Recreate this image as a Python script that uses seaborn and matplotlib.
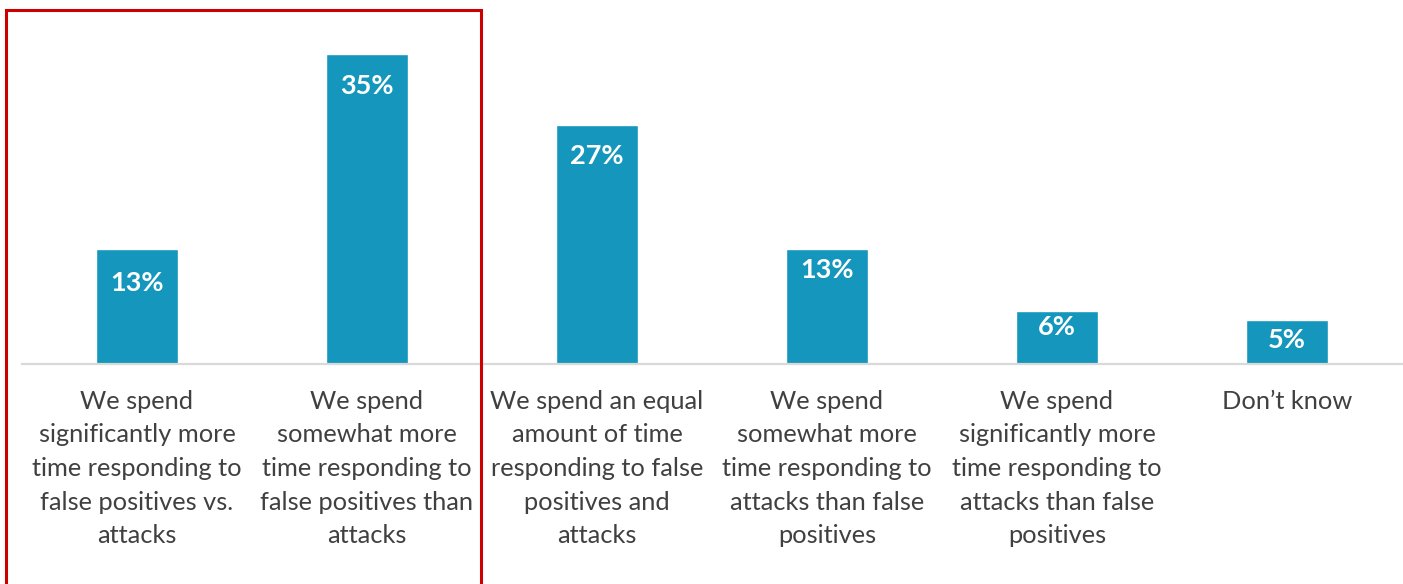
import matplotlib
matplotlib.use("Agg")
import matplotlib.pyplot as plt
import seaborn as sns
import pandas as pd
from matplotlib.patches import Rectangle

# data
categories = [
    "We spend\nsignificantly more\ntime responding to\nfalse positives vs.\nattacks",
    "We spend\nsomewhat more\ntime responding to\nfalse positives than\nattacks",
    "We spend an equal\namount of time\nresponding to false\npositives and\nattacks",
    "We spend\nsomewhat more\ntime responding to\nattacks than false\npositives",
    "We spend\nsignificantly more\ntime responding to\nattacks than false\npositives",
    "Don\u2019t know",
]
values = [13, 35, 27, 13, 6, 5]

# label offsets below bar top, in pixels (style)
label_drop = [34, 32, 31, 21, 16, 20]

df = pd.DataFrame({"cat": categories, "val": values})

sns.set_theme(style="white")
plt.rcParams["font.family"] = ["Lato", "DejaVu Sans"]

W, H = 1403, 584
fig = plt.figure(figsize=(W / 100, H / 100), dpi=100)
ax = fig.add_axes([22 / W, (H - 364) / H, 1380 / W, 354 / H])

sns.barplot(data=df, x="cat", y="val", color="#1596BC", saturation=1,
            width=0.357, ax=ax)

ax.set_xlim(-0.5, 5.5)
ax.set_ylim(0, 354 / 8.85)
ax.set_xlabel("")
ax.set_ylabel("")
ax.set_yticks([])
for s in ["top", "right", "left"]:
    ax.spines[s].set_visible(False)
ax.spines["bottom"].set_color("#D9D9D9")
ax.spines["bottom"].set_linewidth(1.6)
ax.tick_params(axis="x", length=0, pad=18.5)
ax.set_xticks(range(len(categories)))
ax.set_xticklabels(categories, fontsize=18.3, color="#404040", linespacing=1.56,
                   va="top")

for i, (v, d) in enumerate(zip(values, label_drop)):
    ax.annotate(f"{v}%", xy=(i, v), xytext=(0, -d * 0.72), textcoords="offset points",
                ha="center", va="center", color="white", fontsize=19.5,
                fontweight="bold")

fig.patches.append(Rectangle((6 / W, -0.05), 475 / W, (H - 10) / H + 0.05,
                             transform=fig.transFigure, fill=False,
                             edgecolor="#CC0000", linewidth=2.2))

fig.savefig("out.png", dpi=100)
